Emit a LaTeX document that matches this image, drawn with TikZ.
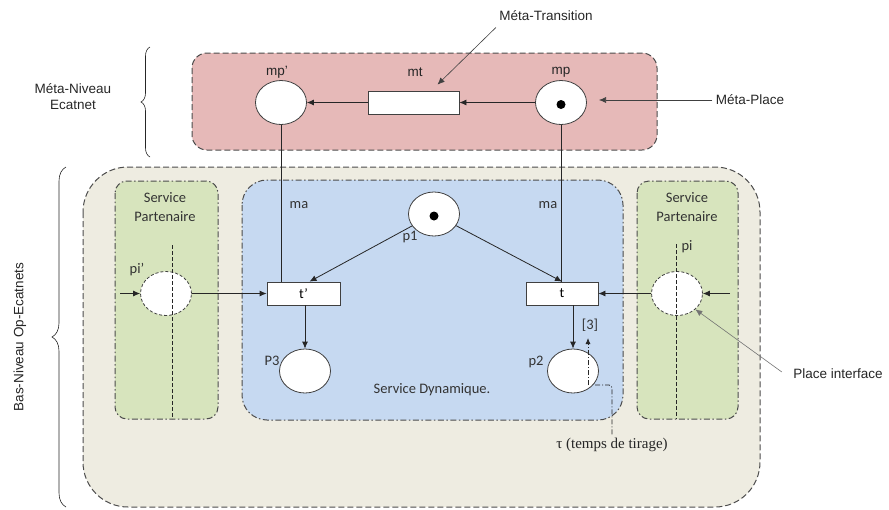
\documentclass[tikz,border=0pt]{standalone}
\usepackage{fontspec}
\setmainfont{Liberation Sans}
\newfontfamily\calfont{Carlito}
\newfontfamily\serfont{Liberation Serif}
\usetikzlibrary{positioning, arrows.meta, shapes.geometric, calc, decorations.pathreplacing}

\definecolor{metapink}{HTML}{E6B9B8}
\definecolor{basbeige}{HTML}{EEECE1}
\definecolor{dynblue}{HTML}{C6D9F1}
\definecolor{partgreen}{HTML}{D7E4BD}

\begin{document}
\begin{tikzpicture}[x=1pt, y=-1pt]
    % Definitions
    \def\placeW{51}
    \def\placeH{44}
    \def\transH{23}

    % Styles
    \tikzstyle{place} = [ellipse, draw=black!75, line width=0.8pt, fill=white, minimum width=\placeW pt, minimum height=\placeH pt, inner sep=0pt]
    \tikzstyle{iplace} = [place, dash pattern=on 3pt off 2pt]
    \tikzstyle{trans} = [rectangle, draw=black!75, line width=0.8pt, fill=white, minimum height=\transH pt, inner sep=0pt, font=\calfont\fontsize{14}{16}\selectfont]
    \tikzstyle{flow} = [draw, -{Latex[length=7pt, width=6pt]}, line width=0.8pt, black!85]
    \tikzstyle{line} = [draw, line width=0.8pt, black!85]
    \tikzstyle{pointer} = [draw, -{Latex[length=7pt, width=6pt]}, line width=0.6pt, black!75]
    \tikzstyle{txt} = [font=\fontsize{13.5}{16}\selectfont, text=black!85]
    \tikzstyle{ctxt} = [font=\calfont\fontsize{14.5}{19}\selectfont, text=black!80]
    \tikzstyle{lvlbox} = [draw=black!70, line width=1pt, dash pattern=on 6pt off 3pt]
    \tikzstyle{svcbox} = [draw=black!70, line width=1pt, dash pattern=on 6pt off 2.5pt on 1.5pt off 2.5pt]
    \tikzstyle{ifaceaxis} = [draw=black!85, line width=0.8pt, dash pattern=on 4pt off 2pt]
    \tikzstyle{tau} = [draw=black!85, line width=0.8pt, dash pattern=on 5pt off 2pt on 1pt off 2pt]

    \useasboundingbox (0,0) rectangle (889,509);

    % Levels
    \draw[lvlbox, fill=metapink, rounded corners=15pt] (192,53) rectangle (657,150);
    \draw[lvlbox, fill=basbeige, rounded corners=45pt] (83,167) rectangle (760,507);
    \draw[svcbox, fill=partgreen, rounded corners=12pt] (115,181) rectangle (218,419);
    \draw[svcbox, fill=partgreen, rounded corners=12pt] (637,181) rectangle (738,419);
    \draw[svcbox, fill=dynblue, rounded corners=25pt] (242,180) rectangle (623,420);

    % Braces
    \draw[line, line width=0.6pt, decorate, decoration={brace, amplitude=9pt}] (150,157) -- (150,47);
    \draw[line, line width=0.6pt, decorate, decoration={brace, amplitude=14pt}] (66,507) -- (66,167);
    \node[txt, align=center] (metalvl) at (73,97) {Méta-Niveau\\Ecatnet};
    \node[txt, rotate=90] (baslvl) at (20,337) {Bas-Niveau Op-Ecatnets};

    % Meta level
    \node[place] (mpp) at (281,102.5) {};
    \node[place] (mp) at (561,102.5) {};
    \fill ($(mp)+(0,2)$) circle (4.5pt);
    \node[trans, minimum width=91pt] (mt) at (413.5,102.5) {};
    \node[txt] (mpplab) at (277,72) {mp’};
    \node[txt] (mtname) at (415,72) {mt};
    \node[txt] (mpname) at (561,72) {mp};
    \draw[flow] (mp) -- (mt);
    \draw[flow] (mt) -- (mpp);

    \node[txt] (mtlab) at (546,16) {Méta-Transition};
    \draw[pointer] ($(mtlab.south west)+(0,3)$) -- ($(mt.north)+(24,-6)$);
    \node[txt] (mplab) at (750,100) {Méta-Place};
    \coordinate (mptip) at (599,100);
    \draw[pointer] (mplab.west) -- (mptip);

    % Service partenaire
    \node[ctxt, align=center] (svcL) at (165,207) {Service\\Partenaire};
    \node[ctxt, align=center] (svcR) at (687,207) {Service\\Partenaire};
    \node[iplace] (pip) at (166,293.5) {};
    \node[iplace] (pi) at (677,293.5) {};
    \draw[ifaceaxis] (172,245) -- (172,419);
    \draw[ifaceaxis] (676,244) -- (676,419);
    \node[ctxt] (piplab) at (137,270) {pi’};
    \node[ctxt] (pilab) at (687,247) {pi};
    \coordinate (inL) at (120,293.5);
    \coordinate (inR) at (730,293.5);
    \draw[flow] (inL) -- (pip);
    \draw[flow] (inR) -- (pi);

    % Service dynamique
    \node[place] (p1) at (434,214) {};
    \fill ($(p1)+(0,2)$) circle (4.5pt);
    \node[trans, minimum width=73pt] (t1) at (303.5,293.5) {t’};
    \node[trans, minimum width=72pt] (t2) at (562,293.5) {t};
    \node[place] (p3) at (305,371) {};
    \node[place] (p2) at (573,371) {};
    \node[ctxt] (p1lab) at (410,237) {p1};
    \node[ctxt] (p3lab) at (272,361) {P3};
    \node[ctxt] (p2lab) at (536,362) {p2};
    \node[ctxt] (mult) at (590,325) {[3]};
    \node[ctxt] (dynlab) at (432,390) {Service Dynamique.};

    \draw[line] (mpp) -- (mpp |- t1.north);
    \draw[line] (mp) -- (mp |- t2.north);
    \node[ctxt] (maL) at (299,205) {ma};
    \node[ctxt] (maR) at (548,205) {ma};
    \draw[flow] (p1) -- ($(t1.north)+(6,0)$);
    \draw[flow] (p1) -- (t2.north);
    \draw[flow] (pip) -- (t1);
    \draw[flow] (pi) -- (t2);
    \draw[flow] (p3 |- t1.south) -- (p3);
    \draw[flow] (p2 |- t2.south) -- (p2);

    % Firing time
    \node[font=\serfont\fontsize{15}{17}\selectfont, text=black!85] (taulab) at (612,445) {τ (temps de tirage)};
    \draw[tau, -{Latex[length=6pt, width=5pt]}] ($(p2)+(15,14)$) -- ($(p2)+(15,-33)$);
    \draw[tau, rounded corners=3pt] ($(p2)+(22,14)$) -| (taulab.north);

    % Interface
    \node[txt] (ifacelab) at (838,374) {Place interface};
    \draw[pointer, black!55] ($(ifacelab.west)+(-8,-2)$) -- (pi.south east);
\end{tikzpicture}
\end{document}
